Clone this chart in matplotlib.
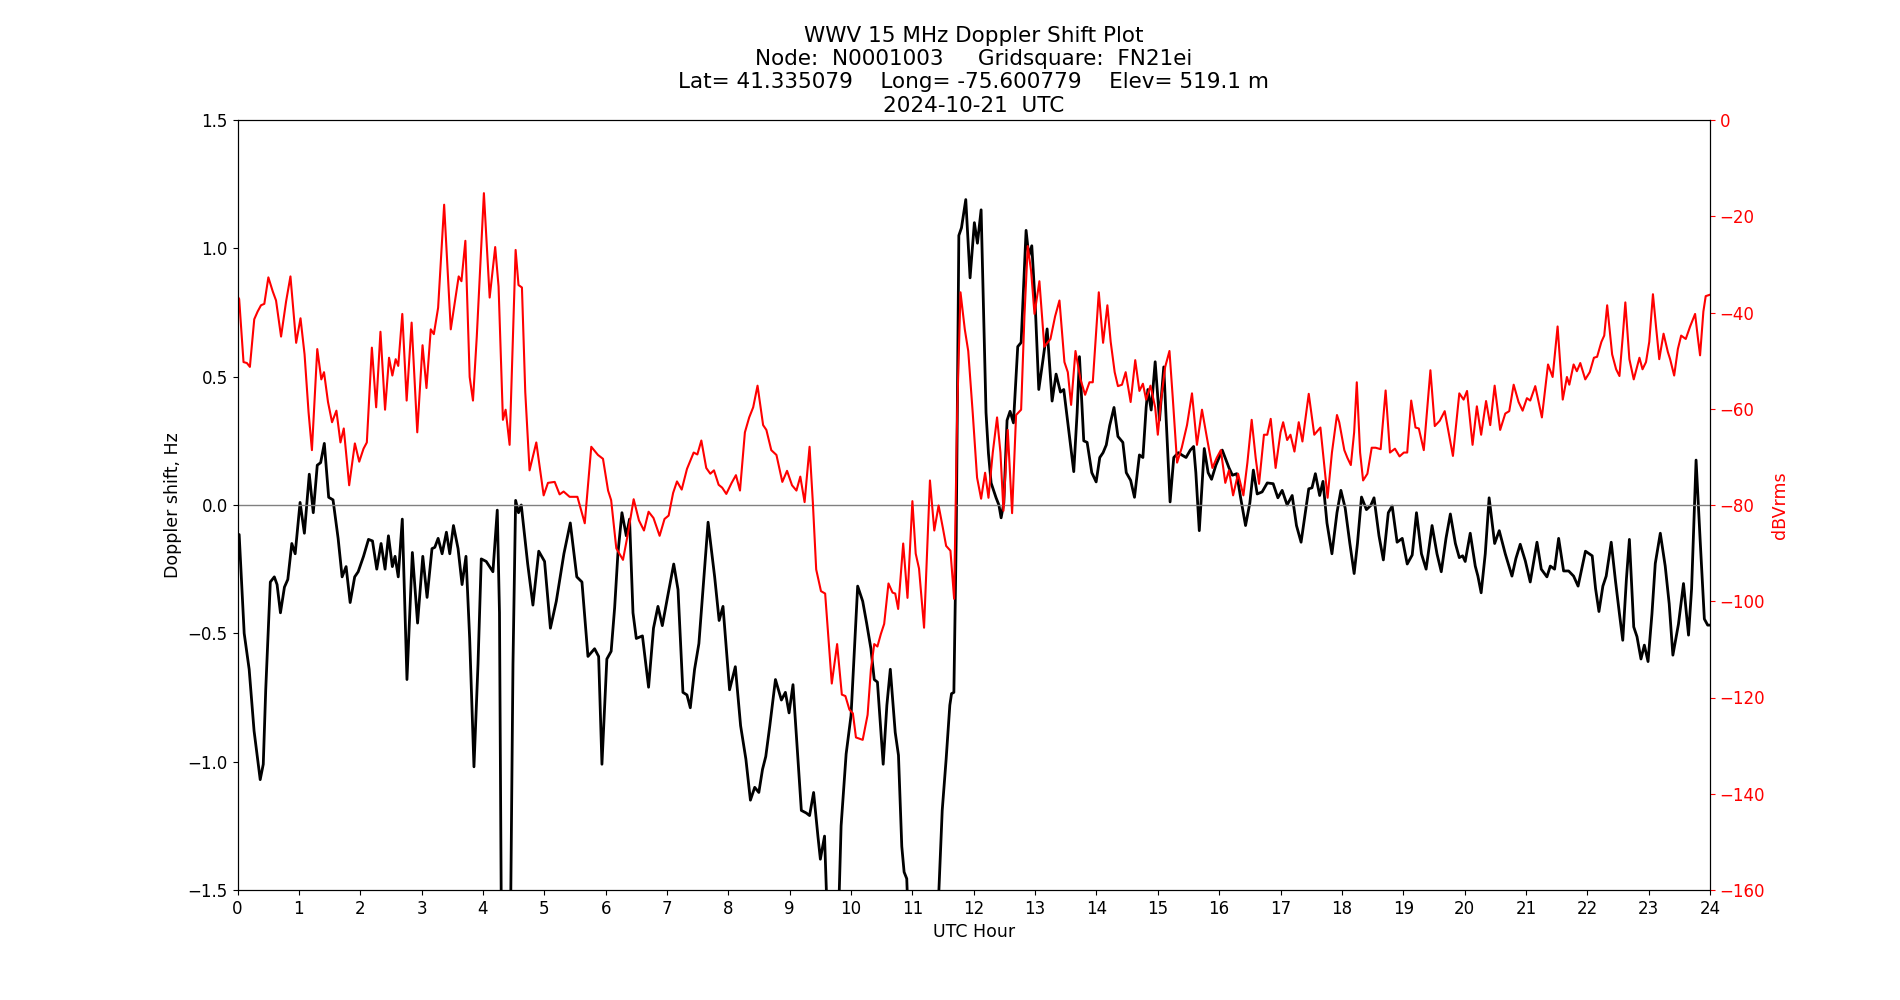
import matplotlib
matplotlib.use('Agg')
import matplotlib.pyplot as plt

# Doppler shift trace (UTC hour, Hz)
doppler_hours = [
    0.0, 0.027, 0.109, 0.19, 0.27, 0.37, 0.42, 0.46, 0.535, 0.60, 0.645, 0.70, 0.765, 0.82, 0.885, 0.94,
    1.02, 1.09, 1.17, 1.235, 1.30, 1.355, 1.415, 1.486, 1.557, 1.64, 1.705, 1.77, 1.836, 1.91, 1.967,
    2.054, 2.135, 2.2, 2.27, 2.34, 2.405, 2.46, 2.524, 2.568, 2.62, 2.686, 2.762, 2.85, 2.935,
    3.02, 3.09, 3.17, 3.216, 3.27, 3.335, 3.405, 3.46, 3.52, 3.595, 3.66, 3.724, 3.784, 3.854, 3.92, 3.973,
    4.054, 4.163, 4.234, 4.27, 4.31, 4.435, 4.49, 4.533, 4.58, 4.625, 4.73, 4.815, 4.91,
    5.005, 5.1, 5.196, 5.32, 5.424, 5.53, 5.614, 5.712, 5.82, 5.886, 5.94,
    6.02, 6.09, 6.147, 6.2, 6.266, 6.337, 6.39, 6.446, 6.5, 6.6, 6.7, 6.78, 6.853, 6.924,
    7.016, 7.11, 7.18, 7.26, 7.326, 7.38, 7.45, 7.52, 7.587, 7.67, 7.777, 7.85, 7.913,
    8.02, 8.114, 8.2, 8.286, 8.36, 8.43, 8.497, 8.557, 8.61, 8.676, 8.768, 8.865, 8.93, 8.99,
    9.054, 9.12, 9.19, 9.27, 9.324, 9.39, 9.46, 9.5, 9.568, 9.64, 9.773, 9.838, 9.92,
    10.0, 10.108, 10.19, 10.254, 10.324, 10.378, 10.43, 10.524, 10.584, 10.64, 10.72, 10.773, 10.827,
    10.865, 10.908, 10.96, 11.38, 11.486, 11.55, 11.61, 11.638, 11.676, 11.714, 11.757, 11.8, 11.87, 11.94,
    12.01, 12.06, 12.12, 12.2, 12.24, 12.283, 12.364, 12.41, 12.446, 12.49, 12.543, 12.592, 12.647,
    12.717, 12.772, 12.815, 12.853, 12.897, 12.946,
    13.0, 13.06, 13.125, 13.196, 13.277, 13.342, 13.413, 13.467, 13.533, 13.63, 13.685, 13.723, 13.793,
    13.848, 13.924, 13.995,
    14.054, 14.108, 14.16, 14.216, 14.286, 14.35, 14.43, 14.486, 14.557, 14.62, 14.7, 14.757, 14.81,
    14.838, 14.892, 14.957,
    15.027, 15.097, 15.135, 15.2, 15.26, 15.335, 15.39, 15.46, 15.53, 15.584, 15.62, 15.676, 15.757,
    15.82, 15.876, 15.946,
    16.05, 16.16, 16.216, 16.286, 16.35, 16.43, 16.5, 16.557, 16.62, 16.7, 16.784, 16.88, 16.957,
    17.027, 17.108, 17.19, 17.26, 17.335, 17.405, 17.46, 17.513, 17.568, 17.638, 17.692, 17.757, 17.838,
    17.92, 17.984,
    18.054, 18.13, 18.2, 18.254, 18.32, 18.4, 18.47, 18.524, 18.605, 18.676, 18.757, 18.82, 18.9, 18.984,
    19.065, 19.146, 19.216, 19.297, 19.373, 19.47, 19.55, 19.62, 19.697, 19.768, 19.85, 19.914, 19.968,
    20.01, 20.092, 20.174, 20.217, 20.27, 20.337, 20.4, 20.49, 20.565, 20.663, 20.772, 20.837, 20.907, 20.99,
    21.07, 21.18, 21.25, 21.342, 21.397, 21.467, 21.533, 21.614, 21.696, 21.777, 21.85, 21.97,
    22.08, 22.135, 22.19, 22.254, 22.308, 22.39, 22.46, 22.524, 22.578, 22.638, 22.686, 22.757, 22.81,
    22.875, 22.93, 22.99,
    23.054, 23.108, 23.19, 23.27, 23.335, 23.395, 23.486, 23.568, 23.65, 23.7, 23.773, 23.838, 23.908,
    23.962, 24.0]
doppler_hz = [
    -0.12, -0.115, -0.50, -0.64, -0.88, -1.07, -1.01, -0.72, -0.30, -0.28, -0.31, -0.42, -0.32, -0.29, -0.15, -0.19,
    0.01, -0.11, 0.12, -0.03, 0.155, 0.165, 0.24, 0.03, 0.02, -0.13, -0.28, -0.24, -0.38, -0.28, -0.26,
    -0.20, -0.134, -0.14, -0.25, -0.15, -0.25, -0.12, -0.24, -0.20, -0.28, -0.055, -0.68, -0.185, -0.46,
    -0.20, -0.36, -0.17, -0.165, -0.13, -0.19, -0.106, -0.19, -0.08, -0.17, -0.31, -0.20, -0.52, -1.02, -0.62, -0.21,
    -0.22, -0.26, -0.02, -0.42, -2.0, -2.0, -0.62, 0.018, -0.03, 0.0, -0.23, -0.39, -0.18,
    -0.22, -0.48, -0.375, -0.19, -0.07, -0.28, -0.30, -0.59, -0.56, -0.59, -1.01,
    -0.60, -0.57, -0.40, -0.19, -0.03, -0.12, -0.055, -0.42, -0.52, -0.51, -0.71, -0.48, -0.395, -0.47,
    -0.35, -0.23, -0.33, -0.73, -0.74, -0.79, -0.64, -0.54, -0.33, -0.067, -0.28, -0.45, -0.395,
    -0.72, -0.63, -0.86, -0.99, -1.15, -1.10, -1.12, -1.03, -0.98, -0.86, -0.68, -0.76, -0.73, -0.81,
    -0.70, -0.935, -1.19, -1.20, -1.21, -1.12, -1.29, -1.38, -1.29, -1.8, -1.8, -1.25, -0.97,
    -0.82, -0.316, -0.375, -0.46, -0.56, -0.68, -0.69, -1.01, -0.78, -0.64, -0.886, -0.975, -1.33,
    -1.43, -1.456, -1.8, -1.8, -1.19, -0.99, -0.78, -0.735, -0.73, -0.13, 1.05, 1.08, 1.19, 0.885,
    1.10, 1.02, 1.15, 0.36, 0.20, 0.086, 0.028, 0.0, -0.05, 0.008, 0.33, 0.365, 0.32,
    0.617, 0.633, 0.86, 1.07, 0.97, 1.01,
    0.79, 0.45, 0.56, 0.686, 0.405, 0.51, 0.44, 0.45, 0.32, 0.13, 0.36, 0.578, 0.25,
    0.244, 0.126, 0.09,
    0.185, 0.204, 0.234, 0.31, 0.38, 0.267, 0.244, 0.126, 0.096, 0.03, 0.195, 0.185, 0.38,
    0.45, 0.37, 0.558,
    0.33, 0.538, 0.34, 0.012, 0.185, 0.204, 0.195, 0.185, 0.214, 0.228, 0.126, -0.10, 0.22,
    0.126, 0.10, 0.155,
    0.214, 0.145, 0.116, 0.122, 0.028, -0.08, 0.008, 0.136, 0.043, 0.051, 0.086, 0.083, 0.028,
    0.057, 0.0, 0.037, -0.08, -0.145, -0.03, 0.063, 0.067, 0.122, 0.037, 0.092, -0.07, -0.19,
    -0.03, 0.057,
    -0.012, -0.15, -0.267, -0.15, 0.031, -0.018, -0.002, 0.028, -0.12, -0.214, -0.03, -0.004, -0.145, -0.13,
    -0.23, -0.195, -0.03, -0.19, -0.25, -0.08, -0.19, -0.26, -0.13, -0.035, -0.15, -0.205, -0.198,
    -0.22, -0.11, -0.238, -0.277, -0.342, -0.19, 0.028, -0.15, -0.10, -0.19, -0.277, -0.208, -0.153, -0.218,
    -0.30, -0.145, -0.25, -0.28, -0.238, -0.25, -0.13, -0.257, -0.257, -0.277, -0.316, -0.18,
    -0.198, -0.326, -0.415, -0.316, -0.277, -0.145, -0.297, -0.424, -0.527, -0.287, -0.134, -0.475, -0.513,
    -0.60, -0.546, -0.61,
    -0.424, -0.228, -0.11, -0.238, -0.385, -0.585, -0.464, -0.306, -0.507, -0.326, 0.175, -0.13, -0.444,
    -0.468, -0.468]

# received signal level (UTC hour, dBVrms)
level_hours = [
    0.0, 0.027, 0.098, 0.153, 0.202, 0.273, 0.328, 0.383, 0.437, 0.503, 0.574, 0.628, 0.71, 0.792, 0.863, 0.956,
    1.027, 1.093, 1.158, 1.213, 1.30, 1.366, 1.41, 1.475, 1.541, 1.612, 1.678, 1.732, 1.82, 1.913, 1.984,
    2.054, 2.108, 2.19, 2.26, 2.33, 2.405, 2.47, 2.524, 2.578, 2.62, 2.686, 2.757, 2.838, 2.93,
    3.016, 3.08, 3.15, 3.2, 3.27, 3.368, 3.476, 3.55, 3.605, 3.65, 3.714, 3.784, 3.838, 3.9,
    4.016, 4.11, 4.2, 4.255, 4.326, 4.37, 4.435, 4.533, 4.58, 4.636, 4.69, 4.76, 4.87, 4.99,
    5.06, 5.17, 5.25, 5.315, 5.413, 5.54, 5.66, 5.766, 5.875, 5.957,
    6.04, 6.09, 6.174, 6.283, 6.364, 6.457, 6.543, 6.625, 6.7, 6.78, 6.88, 6.96,
    7.027, 7.1, 7.163, 7.24, 7.326, 7.435, 7.495, 7.56, 7.64, 7.706, 7.766, 7.842, 7.9, 7.967,
    8.054, 8.124, 8.19, 8.27, 8.34, 8.405, 8.476, 8.567, 8.62, 8.7, 8.784, 8.88, 8.957,
    9.038, 9.11, 9.173, 9.243, 9.324, 9.378, 9.432, 9.51, 9.578, 9.686, 9.773, 9.85, 9.908, 9.973,
    10.03, 10.08, 10.19, 10.27, 10.324, 10.378, 10.43, 10.486, 10.54, 10.61, 10.676, 10.72, 10.768, 10.85, 10.92,
    11.0, 11.054, 11.108, 11.19, 11.286, 11.357, 11.427, 11.497, 11.55, 11.62, 11.68, 11.73, 11.784, 11.854, 11.91,
    11.984, 12.054, 12.12, 12.185, 12.24, 12.31, 12.38, 12.435, 12.484, 12.554, 12.625, 12.69, 12.772,
    12.826, 12.88, 12.935, 12.99,
    13.07, 13.15, 13.25, 13.326, 13.397, 13.478, 13.533, 13.587, 13.658, 13.74, 13.815, 13.886, 13.94,
    14.038, 14.108, 14.178, 14.232, 14.297, 14.35, 14.416, 14.476, 14.557, 14.632, 14.7, 14.757, 14.81,
    14.88, 14.957,
    15.0, 15.054, 15.12, 15.19, 15.243, 15.314, 15.39, 15.476, 15.557, 15.638, 15.72, 15.8, 15.89, 15.96,
    16.027, 16.1, 16.16, 16.227, 16.308, 16.395, 16.46, 16.53, 16.595, 16.65, 16.73, 16.784, 16.84, 16.92,
    17.0, 17.043, 17.108, 17.162, 17.227, 17.297, 17.357, 17.46, 17.55, 17.65, 17.7, 17.767, 17.838,
    17.92, 17.957,
    18.04, 18.09, 18.146, 18.2, 18.243, 18.297, 18.346, 18.416, 18.486, 18.55, 18.632, 18.713, 18.784,
    18.865, 18.94,
    19.01, 19.065, 19.13, 19.2, 19.254, 19.335, 19.443, 19.514, 19.595, 19.676, 19.74, 19.81, 19.914, 19.984,
    20.04, 20.13, 20.2, 20.27, 20.35, 20.418, 20.49, 20.58, 20.663, 20.728, 20.8, 20.88, 20.946,
    21.016, 21.07, 21.152, 21.26, 21.36, 21.435, 21.516, 21.6, 21.668, 21.707, 21.777, 21.83, 21.886, 21.967,
    22.04, 22.108, 22.16, 22.23, 22.276, 22.324, 22.405, 22.47, 22.524, 22.578, 22.62, 22.686, 22.757,
    22.85, 22.9, 22.957,
    23.01, 23.07, 23.12, 23.173, 23.243, 23.313, 23.35, 23.416, 23.476, 23.53, 23.605, 23.676, 23.757,
    23.8, 23.838, 23.892, 23.93, 24.0]
level_db = [
    -36.6, -37.2, -50.3, -50.5, -51.3, -41.4, -39.8, -38.5, -38.2, -32.7, -35.6, -37.5, -45.0, -37.7, -32.5, -46.3,
    -41.2, -48.7, -60.7, -68.6, -47.6, -53.9, -52.4, -58.6, -62.8, -60.4, -67.0, -64.1, -75.9, -67.2, -71.0,
    -68.3, -67.0, -47.3, -59.7, -44.0, -60.2, -49.4, -53.1, -49.7, -51.1, -40.3, -58.3, -42.1, -64.9,
    -46.8, -55.7, -43.5, -44.5, -39.0, -17.6, -43.5, -37.2, -32.5, -33.5, -25.1, -53.4, -58.3, -45.0,
    -15.2, -36.9, -26.4, -34.6, -62.3, -60.2, -67.5, -27.0, -34.3, -34.8, -56.5, -72.8, -67.0, -78.0,
    -75.4, -75.2, -77.8, -77.2, -78.3, -78.3, -83.8, -67.9, -69.6, -70.4,
    -77.0, -79.0, -89.0, -91.4, -85.9, -78.8, -83.2, -85.3, -81.4, -82.7, -86.4, -82.9,
    -82.2, -77.5, -75.1, -76.8, -72.5, -69.1, -69.5, -66.6, -72.3, -73.5, -72.8, -75.8, -76.4, -77.7,
    -75.4, -73.8, -77.0, -64.9, -61.8, -59.7, -55.2, -63.4, -64.4, -68.6, -69.6, -75.2, -72.9,
    -75.9, -77.0, -74.1, -79.4, -67.9, -79.6, -93.4, -97.9, -98.4, -117.1, -108.9, -119.4, -119.7, -122.5,
    -123.3, -128.3, -128.8, -123.6, -114.1, -108.9, -109.4, -106.8, -104.7, -96.3, -98.2, -98.4, -101.6, -88.0, -99.3,
    -79.2, -90.1, -93.2, -105.5, -74.9, -85.3, -80.1, -84.8, -88.5, -89.5, -99.5, -60.7, -35.8, -43.5, -48.0,
    -61.0, -74.3, -78.7, -73.3, -78.5, -69.1, -61.8, -69.1, -81.2, -64.4, -81.7, -61.3, -60.2,
    -40.8, -26.2, -31.4, -40.3,
    -33.5, -47.1, -45.5, -40.8, -37.5, -50.3, -52.4, -59.2, -48.0, -53.9, -57.1, -54.5, -54.5,
    -35.8, -46.3, -38.5, -46.1, -52.4, -55.3, -55.0, -52.4, -58.6, -49.9, -56.3, -54.8, -58.1,
    -55.2, -59.7,
    -65.4, -58.1, -51.3, -48.0, -57.6, -71.2, -68.1, -63.4, -56.8, -67.5, -60.2, -66.0, -72.3, -70.2,
    -68.6, -75.4, -72.8, -78.0, -73.5, -78.0, -71.2, -62.3, -70.2, -75.6, -65.4, -65.4, -62.1, -72.3,
    -64.9, -62.8, -66.5, -65.4, -68.9, -62.8, -66.8, -56.9, -65.4, -63.9, -70.2, -78.5, -69.1,
    -61.3, -62.8,
    -68.6, -70.2, -71.7, -64.9, -54.5, -69.1, -74.9, -73.5, -68.1, -68.1, -68.4, -56.2, -69.1,
    -68.3, -69.9,
    -69.1, -69.1, -58.3, -63.9, -64.1, -68.6, -52.0, -63.6, -62.5, -60.5, -64.9, -69.8, -56.8, -58.1,
    -56.3, -67.5, -59.5, -65.4, -58.4, -63.4, -55.2, -64.4, -61.0, -60.5, -55.0, -58.6, -60.4,
    -57.8, -58.3, -55.3, -61.8, -50.8, -53.4, -42.9, -58.1, -53.4, -55.0, -50.8, -52.2, -50.5, -53.9,
    -52.4, -49.4, -49.2, -46.1, -44.8, -38.5, -48.7, -51.8, -53.2, -45.0, -37.9, -49.7, -53.9,
    -49.4, -51.8, -50.3,
    -46.1, -36.2, -42.9, -49.7, -44.4, -48.2, -49.7, -53.1, -47.6, -44.8, -45.5, -42.9, -40.3,
    -45.0, -48.9, -39.8, -36.6, -36.3]

hour_ticks = list(range(0, 25))

fig, ax = plt.subplots(figsize=(19, 10), dpi=100)
ax.plot(doppler_hours, doppler_hz, color='black', linewidth=2)
ax.axhline(0, color='grey', linewidth=1)
ax.set_xlim(0, 24)
ax.set_ylim(-1.5, 1.5)
ax.set_xticks(hour_ticks)
ax.set_xlabel('UTC Hour', fontsize=12.5)
ax.set_ylabel('Doppler shift, Hz', fontsize=12.5)
ax.tick_params(labelsize=12)

ax2 = ax.twinx()
ax2.plot(level_hours, level_db, color='red', linewidth=1.5)
ax2.set_ylim(-160, 0)
ax2.set_ylabel('dBVrms', color='red', fontsize=12.5)
ax2.tick_params(axis='y', colors='red', labelsize=12)

ax.set_title('WWV 15 MHz Doppler Shift Plot\n'
             'Node:  N0001003     Gridsquare:  FN21ei\n'
             'Lat= 41.335079    Long= -75.600779    Elev= 519.1 m\n'
             '2024-10-21  UTC', fontsize=15.5)

fig.savefig('out.png')
